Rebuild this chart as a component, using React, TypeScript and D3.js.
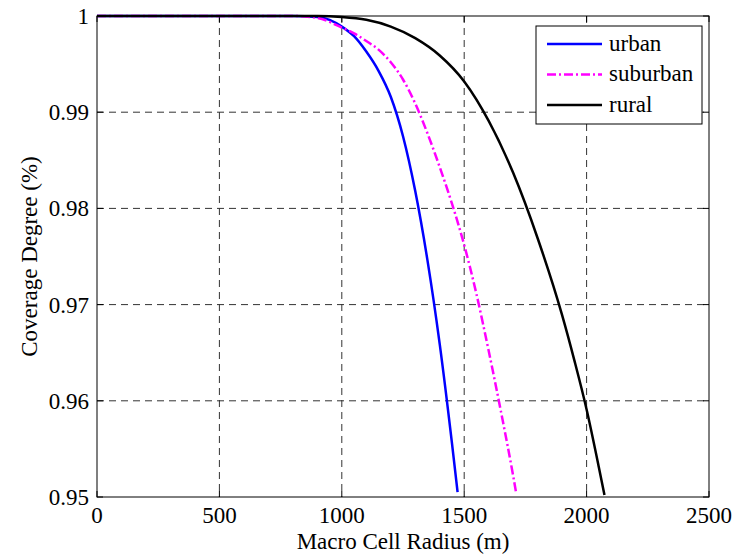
import { useMemo } from "react";
import * as d3 from "d3";

// radius (m) / coverage
const urbanR = [0, 800, 900, 950, 1000, 1050, 1100, 1150, 1200, 1250, 1300, 1350, 1400, 1450, 1473];
const urbanC = [1, 1, 0.9999, 0.9996, 0.9989, 0.9979, 0.9963, 0.9943, 0.9916, 0.9875, 0.9818, 0.9746, 0.9659, 0.9556, 0.9505];

const suburbanR = [0, 800, 900, 1000, 1050, 1100, 1150, 1200, 1250, 1300, 1350, 1400, 1450, 1500, 1550, 1600, 1650, 1700, 1713];
const suburbanC = [1, 1, 0.9998, 0.9988, 0.9982, 0.9974, 0.9965, 0.9952, 0.9934, 0.9909, 0.9878, 0.9843, 0.9805, 0.9762, 0.9711, 0.9652, 0.9589, 0.9522, 0.9503];

const ruralR = [0, 900, 1000, 1100, 1200, 1300, 1400, 1500, 1600, 1700, 1800, 1900, 1950, 2000, 2050, 2073];
const ruralC = [1, 1, 0.9999, 0.9996, 0.9989, 0.9977, 0.9959, 0.9932, 0.9891, 0.9837, 0.9769, 0.9689, 0.9642, 0.9591, 0.9531, 0.9502];

const xTicks = [0, 500, 1000, 1500, 2000, 2500];
const yTicks = [0.95, 0.96, 0.97, 0.98, 0.99, 1];

const series = [
  { name: "urban", r: urbanR, c: urbanC, color: "#0000ff", dash: "" },
  { name: "suburban", r: suburbanR, c: suburbanC, color: "#ff00ff", dash: "9,3,2,3" },
  { name: "rural", r: ruralR, c: ruralC, color: "#000000", dash: "" },
];

const W = 733;
const H = 556;
const left = 97;
const right = 709;
const top = 16;
const bottom = 497;
const serif = { fontFamily: "'Liberation Serif', 'Times New Roman', Times, serif" };

export default function App() {
  const x = useMemo(() => d3.scaleLinear().domain([0, 2500]).range([left, right]), []);
  const y = useMemo(() => d3.scaleLinear().domain([0.95, 1]).range([bottom, top]), []);

  const line = d3
    .line<[number, number]>()
    .x((d) => x(d[0]))
    .y((d) => y(d[1]))
    .curve(d3.curveMonotoneX);

  const fmtY = (v: number) => (v === 1 ? "1" : v.toFixed(2));

  return (
    <svg width={W} height={H} style={{ position: "absolute", left: 0, top: 0, background: "#fff" }}>
      {/* grid */}
      {xTicks.slice(1, -1).map((t) => (
        <line key={"gx" + t} x1={x(t)} x2={x(t)} y1={top} y2={bottom} stroke="#333" strokeWidth={1} strokeDasharray="7,5" />
      ))}
      {yTicks.slice(1, -1).map((t) => (
        <line key={"gy" + t} x1={left} x2={right} y1={y(t)} y2={y(t)} stroke="#333" strokeWidth={1} strokeDasharray="7,5" />
      ))}

      {/* ticks, inside, on all four sides */}
      {xTicks.map((t) => (
        <g key={"tx" + t}>
          <line x1={x(t)} x2={x(t)} y1={bottom} y2={bottom - 6} stroke="#000" />
          <line x1={x(t)} x2={x(t)} y1={top} y2={top + 6} stroke="#000" />
          <text x={x(t)} y={bottom + 26} fontSize={23} textAnchor="middle" fill="#000" style={serif}>
            {t}
          </text>
        </g>
      ))}
      {yTicks.map((t) => (
        <g key={"ty" + t}>
          <line x1={left} x2={left + 6} y1={y(t)} y2={y(t)} stroke="#000" />
          <line x1={right} x2={right - 6} y1={y(t)} y2={y(t)} stroke="#000" />
          <text x={left - 8} y={y(t)} dy="0.35em" fontSize={23} textAnchor="end" fill="#000" style={serif}>
            {fmtY(t)}
          </text>
        </g>
      ))}

      {/* curves */}
      {series.map((s) => (
        <path
          key={s.name}
          d={line(s.r.map((r, i) => [r, s.c[i]] as [number, number])) || ""}
          fill="none"
          stroke={s.color}
          strokeWidth={2.5}
          strokeDasharray={s.dash || undefined}
        />
      ))}

      {/* frame */}
      <rect x={left} y={top} width={right - left} height={bottom - top} fill="none" stroke="#000" strokeWidth={1} />

      {/* legend */}
      <rect x={536} y={26} width={166} height={98} fill="#fff" stroke="#000" strokeWidth={1} />
      {series.map((s, i) => {
        const ly = 44 + i * 30.5;
        return (
          <g key={"lg" + s.name}>
            <line x1={547} x2={602} y1={ly} y2={ly} stroke={s.color} strokeWidth={2.5} strokeDasharray={s.dash || undefined} />
            <text x={609} y={ly} dy="0.3em" fontSize={23} fill="#000" style={serif}>
              {s.name}
            </text>
          </g>
        );
      })}

      {/* axis titles */}
      <text x={(left + right) / 2} y={549} fontSize={23} textAnchor="middle" fill="#000" style={serif}>
        Macro Cell Radius (m)
      </text>
      <text
        transform={`translate(37,${(top + bottom) / 2}) rotate(-90)`}
        fontSize={23}
        textAnchor="middle"
        fill="#000"
        style={serif}
      >
        Coverage Degree (%)
      </text>
    </svg>
  );
}
